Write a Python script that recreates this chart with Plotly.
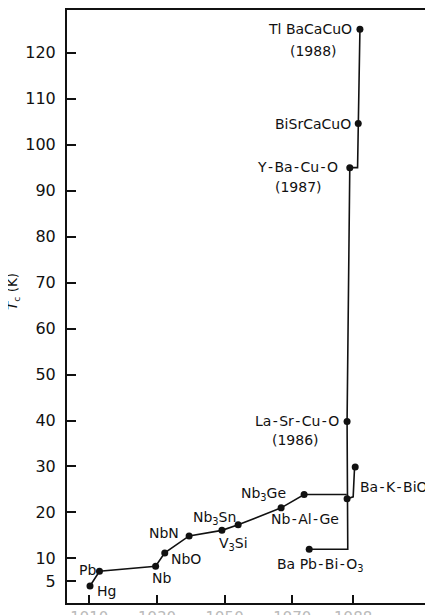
import plotly.graph_objects as go

# ---- data ----
compounds = ["Hg", "Pb", "Nb", "NbO", "NbN", "Nb3Sn", "V3Si", "Nb-Al-Ge", "Nb3Ge",
             "BaPbBiO3", "La-Sr-Cu-O", "junction", "Ba-K-BiO3", "Y-Ba-Cu-O",
             "BiSrCaCuO", "TlBaCaCuO"]
years = [1910.2, 1913.0, 1929.6, 1932.3, 1939.5, 1949.2, 1954.0, 1966.7, 1973.5,
         1975.0, 1986.2, 1986.2, 1988.6, 1987.0, 1989.5, 1990.0]
tc_K = [4.0, 7.2, 8.3, 11.2, 14.9, 16.1, 17.3, 21.0, 23.9,
        12.0, 39.8, 23.0, 29.9, 95.0, 104.6, 125.1]

# connecting paths (step-line vertices)
path_low_x = [1910.2, 1913.0, 1929.6, 1932.3, 1939.5, 1949.2, 1954.0, 1966.7, 1973.5, 1986.1]
path_low_y = [4.0, 7.2, 8.3, 11.2, 14.9, 16.1, 17.3, 21.0, 23.9, 23.9]
path_oxide_x = [1975.0, 1986.4, 1986.2, 1987.0, 1989.3, 1989.5, 1990.0]
path_oxide_y = [12.0, 12.0, 39.8, 95.0, 95.0, 104.6, 125.1]
path_bak_x = [1986.2, 1988.0, 1988.4]
path_bak_y = [23.0, 23.4, 29.6]

x_tickvals = [1910, 1930, 1950, 1970, 1988]
x_ticktext = ["1910", "1930", "1950", "1970", "1988"]
y_tickvals = [5, 10, 20, 30, 40, 50, 60, 70, 80, 90, 100, 110, 120]

H_ = "\u200a-\u200a"  # hyphen with hair spaces, as lettered in the original
# label text, point name, xanchor, xshift, yshift
labels = [
    ("Hg", "Hg", "left", 5, -5),
    ("Pb", "Pb", "right", -1.5, 1),
    ("Nb", "Nb", "center", 5.5, -11.3),
    ("NbO", "NbO", "left", 4, -6.3),
    ("NbN", "NbN", "right", -8, 2.7),
    ("Nb<sub>3</sub>Sn", "Nb3Sn", "center", -7.3, 12),
    ("V<sub>3</sub>Si", "V3Si", "center", -5, -19),
    ("Nb" + H_ + "Al" + H_ + "Ge", "Nb-Al-Ge", "center", 23.7, -11.3),
    ("Nb<sub>3</sub>Ge", "Nb3Ge", "right", -16, 1),
    ("Ba Pb" + H_ + "Bi" + H_ + "O<sub>3</sub>", "BaPbBiO3", "center", 10.4, -15.5),
    ("La" + H_ + "Sr" + H_ + "Cu" + H_ + "O", "La-Sr-Cu-O", "right", -6, 0),
    ("(1986)", "La-Sr-Cu-O", "center", -51.3, -19),
    ("Ba" + H_ + "K" + H_ + "BiO<sub>3</sub>", "Ba-K-BiO3", "left", 3, -20.8),
    ("Y" + H_ + "Ba" + H_ + "Cu" + H_ + "O", "Y-Ba-Cu-O", "right", -9.5, 1),
    ("(1987)", "Y-Ba-Cu-O", "center", -51, -19),
    ("BiSrCaCuO", "BiSrCaCuO", "right", -5, 0),
    ("Tl BaCaCuO", "TlBaCaCuO", "right", -5.5, 0),
    ("(1988)", "TlBaCaCuO", "center", -46.7, -21.7),
]

FONT = "DejaVu Sans"
INK = "#111111"

fig = go.Figure()
for px, py in [(path_low_x, path_low_y), (path_oxide_x, path_oxide_y), (path_bak_x, path_bak_y)]:
    fig.add_trace(go.Scatter(x=px, y=py, mode="lines",
                             line=dict(color=INK, width=1.6), hoverinfo="skip"))
fig.add_trace(go.Scatter(x=years, y=tc_K, mode="markers", text=compounds,
                         marker=dict(color=INK, size=7)))

idx = {n: i for i, n in enumerate(compounds)}
for text, name, xa, xs, ys in labels:
    i = idx[name]
    fig.add_annotation(x=years[i], y=tc_K[i], xref="x", yref="y", text=text,
                       showarrow=False, xanchor=xa, yanchor="middle",
                       xshift=xs, yshift=ys,
                       font=dict(family=FONT, size=14, color=INK))

# page body has an 8px margin; the figure is sized/offset to compensate
OFF = 8
W, H = 433 - OFF, 615 - OFF
ml, mr, mt = 67 - OFF, 0, 10 - OFF          # plot area on the page: x 67.., y 10..603
mb = H - (603 - OFF)
fig.add_annotation(x=(13 - OFF - ml) / (W - ml - mr), y=1 - (292 - OFF - mt) / (H - mt - mb),
                   xref="paper", yref="paper", text="<i>T</i><sub>c</sub> (K)",
                   xanchor="center", yanchor="middle",
                   showarrow=False, textangle=-90,
                   font=dict(family=FONT, size=13.5, color=INK))

fig.update_layout(
    width=W, height=H,
    margin=dict(l=ml, r=mr, t=mt, b=mb, pad=0, autoexpand=False),
    plot_bgcolor="white", paper_bgcolor="white",
    showlegend=False,
    xaxis=dict(range=[1903.4, 2011.6], showgrid=False, zeroline=False, automargin=False,
               showline=True, linecolor=INK, linewidth=2, mirror=True,
               ticks="inside", ticklen=8, tickwidth=1.6, tickcolor=INK,
               tickvals=x_tickvals, ticktext=x_ticktext,
               tickfont=dict(family=FONT, size=15, color="#bbbbbb")),
    yaxis=dict(range=[0.3, 129.3], showgrid=False, zeroline=False, automargin=False,
               showline=True, linecolor=INK, linewidth=2, mirror=False,
               ticks="inside", ticklen=9, tickwidth=1.6, tickcolor=INK,
               tickvals=y_tickvals, ticklabelstandoff=6,
               tickfont=dict(family=FONT, size=16, color=INK)),
)

fig.write_html("out.html")
